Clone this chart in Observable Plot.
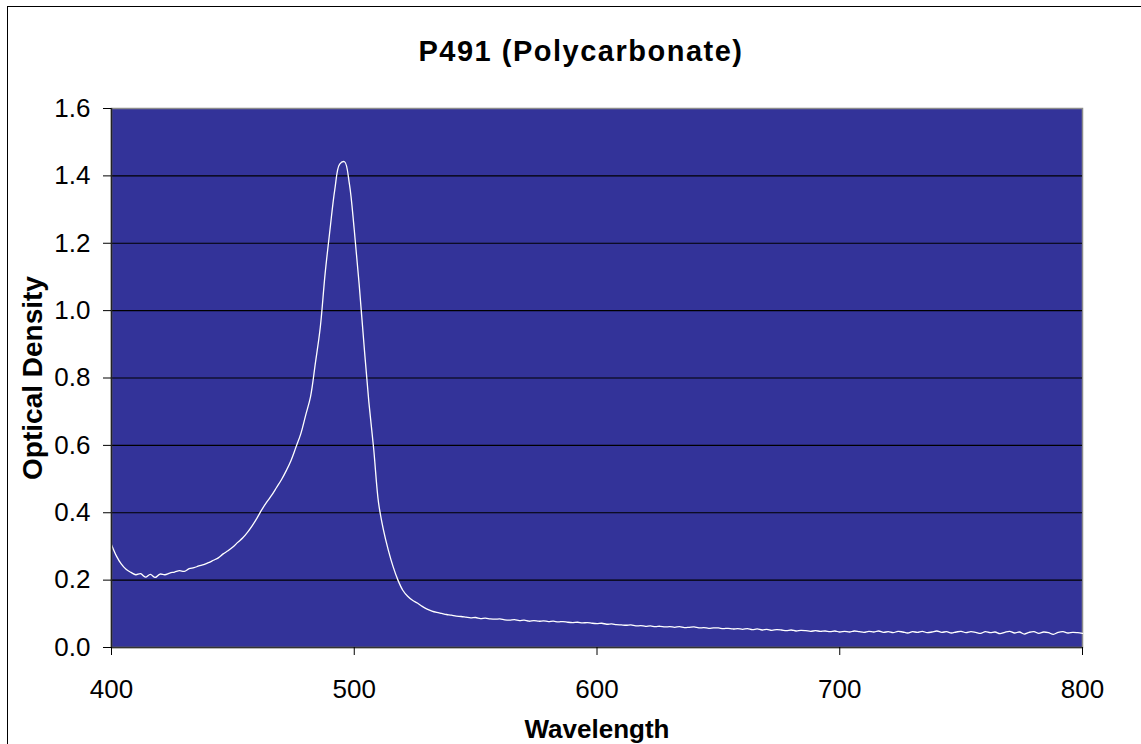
<!DOCTYPE html>
<html><head><meta charset="utf-8">
<script src="https://cdn.jsdelivr.net/npm/d3@7"></script>
<script src="https://cdn.jsdelivr.net/npm/@observablehq/plot@0.6"></script>
<style>
html,body{margin:0;padding:0;background:#fff;overflow:hidden}
#wrap{position:relative;width:1141px;height:744px;overflow:hidden;font-family:"Liberation Sans",Arial,sans-serif}
#border{position:absolute;left:7px;top:6px;width:1200px;height:800px;border:1.5px solid #000;box-sizing:border-box}
#title{position:absolute;left:0;width:1162px;top:37px;line-height:29px;text-align:center;font-weight:bold;font-size:29px;letter-spacing:1.5px;color:#000}
#chart{position:absolute;left:0;top:0}
</style></head><body>
<div id="wrap"><div id="border"></div><div id="title">P491 (Polycarbonate)</div><div id="chart"></div></div>
<script>
const titleText = "P491 (Polycarbonate)";
const xLabel = "Wavelength";
const yLabel = "Optical Density";
const xTicks = [400, 500, 600, 700, 800];
const yTicks = [0, 0.2, 0.4, 0.6, 0.8, 1.0, 1.2, 1.4, 1.6];
const gridLines = [0.2, 0.4, 0.6, 0.8, 1.0, 1.2, 1.4];

const wavelength = [
400,402,404,406,408,410,412,414,416,418,420,422,424,426,428,430,432,434,436,438,
440,442,444,446,448,450,452,454,456,458,460,462,464,466,468,470,472,474,476,478,
480,482,484,486,488,490,492,494,496,498,500,502,504,506,508,510,512,514,516,518,
520,522,524,526,528,530,532,534,536,538,540,542,544,546,548,550,552,554,556,558,
560,562,564,566,568,570,572,574,576,578,580,582,584,586,588,590,592,594,596,598,
600,602,604,606,608,610,612,614,616,618,620,622,624,626,628,630,632,634,636,638,
640,642,644,646,648,650,652,654,656,658,660,662,664,666,668,670,672,674,676,678,
680,682,684,686,688,690,692,694,696,698,700,702,704,706,708,710,712,714,716,718,
720,722,724,726,728,730,732,734,736,738,740,742,744,746,748,750,752,754,756,758,
760,762,764,766,768,770,772,774,776,778,780,782,784,786,788,790,792,794,796,798,
800];

const opticalDensity = [
0.305,0.272,0.248,0.232,0.223,0.216,0.219,0.209,0.217,0.208,0.218,0.216,0.221,0.224,0.228,0.226,0.234,0.237,0.242,0.246,
0.252,0.259,0.266,0.278,0.287,0.298,0.312,0.325,0.342,0.362,0.385,0.410,0.432,0.452,0.475,0.498,0.525,0.556,0.595,0.635,
0.690,0.745,0.845,0.950,1.110,1.240,1.360,1.435,1.442,1.376,1.240,1.080,0.900,0.730,0.590,0.430,0.350,0.290,0.240,0.200,
0.170,0.152,0.140,0.132,0.122,0.114,0.108,0.104,0.101,0.098,0.096,0.093,0.092,0.090,0.088,0.089,0.086,0.087,0.085,0.084,
0.085,0.082,0.081,0.083,0.080,0.081,0.078,0.080,0.078,0.079,0.077,0.078,0.076,0.077,0.075,0.074,0.075,0.073,0.074,0.072,
0.071,0.072,0.069,0.070,0.068,0.067,0.066,0.067,0.064,0.065,0.063,0.064,0.062,0.063,0.061,0.062,0.060,0.062,0.059,0.060,
0.061,0.058,0.059,0.057,0.058,0.058,0.056,0.057,0.055,0.056,0.054,0.056,0.053,0.055,0.052,0.054,0.051,0.053,0.052,0.050,
0.052,0.049,0.051,0.050,0.048,0.050,0.048,0.049,0.047,0.049,0.046,0.048,0.046,0.049,0.047,0.045,0.048,0.046,0.049,0.045,
0.047,0.044,0.048,0.046,0.043,0.047,0.045,0.048,0.044,0.046,0.049,0.045,0.047,0.043,0.046,0.048,0.044,0.047,0.045,0.042,
0.047,0.044,0.046,0.041,0.045,0.048,0.043,0.046,0.040,0.045,0.047,0.042,0.046,0.044,0.039,0.045,0.047,0.043,0.045,0.044,
0.042];

const data = wavelength.map((w, i) => ({w, od: opticalDensity[i]}));
document.getElementById("title").textContent = titleText;

const chart = Plot.plot({
  width: 1141, height: 744,
  marginLeft: 111, marginRight: 59, marginTop: 108, marginBottom: 97,
  style: {background: "transparent", fontFamily: "'Liberation Sans', Arial, sans-serif", fontSize: "26px", color: "#000", overflow: "visible"},
  x: {domain: [400, 800]},
  y: {domain: [0, 1.6]},
  marks: [
    Plot.frame({fill: "#333399", stroke: "#8c8c8c", strokeWidth: 1.5}),
    Plot.ruleY(gridLines, {stroke: "#000", strokeWidth: 1.2}),
    Plot.line(data, {x: "w", y: "od", stroke: "#ffffff", strokeWidth: 1.3, curve: "catmull-rom"}),
    Plot.ruleX([400], {stroke: "#222", strokeWidth: 1.5}),
    Plot.ruleY([0], {stroke: "#333", strokeWidth: 1.5}),
    Plot.axisX({ticks: xTicks, tickSize: 8, tickPadding: 24, tickFormat: d => String(d), label: null, fontSize: 26}),
    Plot.axisY({ticks: yTicks, tickSize: 8, tickPadding: 13, tickFormat: d3.format(".1f"), label: null, fontSize: 26}),
    Plot.text([xLabel], {frameAnchor: "bottom", dy: 90, lineAnchor: "bottom", fontWeight: "bold", fontSize: 26, fill: "#000"}),
    Plot.text([yLabel], {frameAnchor: "left", dx: -70, rotate: -90, textAnchor: "middle", lineAnchor: "bottom", fontWeight: "bold", fontSize: 28, fill: "#000"})
  ]
});
document.getElementById("chart").appendChild(chart);
</script>
</body></html>
